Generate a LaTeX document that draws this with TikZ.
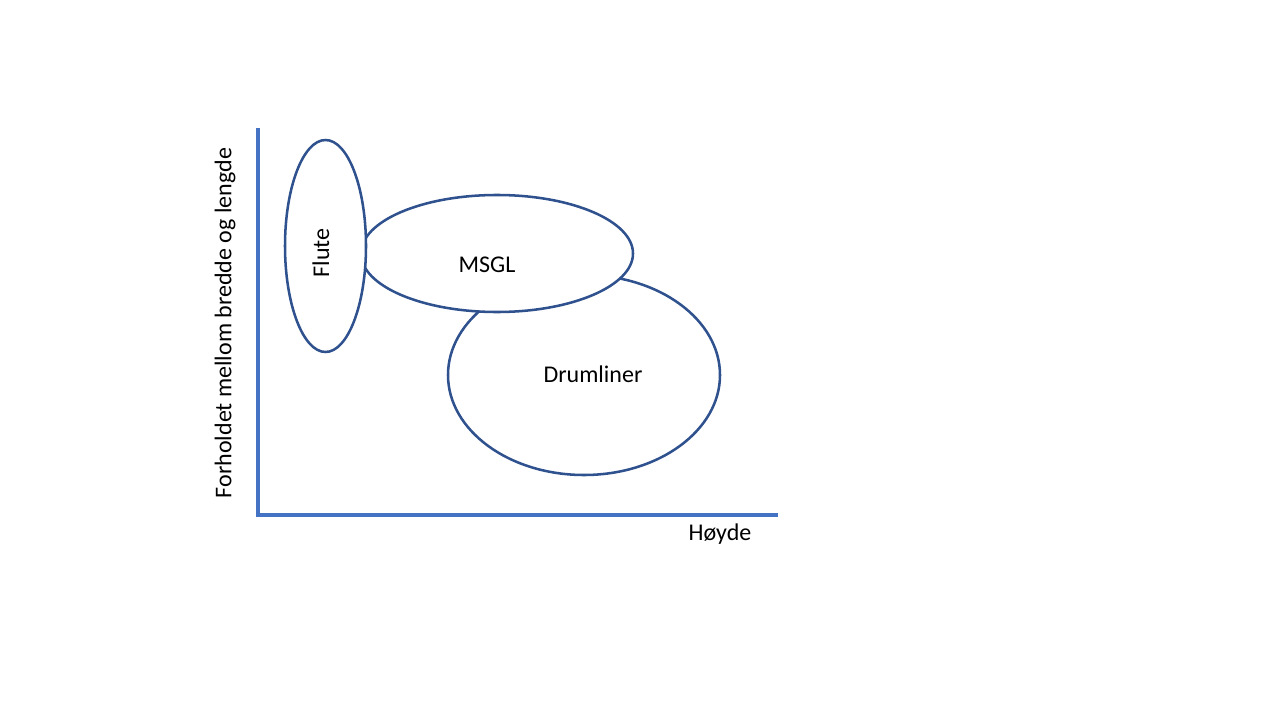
\documentclass[tikz,border=0pt]{standalone}
\usepackage{fontspec}
\setmainfont{Carlito}
\usetikzlibrary{shapes.geometric}
\definecolor{axisblue}{HTML}{4472C4}
\definecolor{ellblue}{HTML}{2F528F}
\begin{document}
\begin{tikzpicture}[x=0.75pt,y=-0.75pt,
  blob/.style={draw=ellblue,line width=1.9pt,fill=white,ellipse,inner sep=0pt},
  axisline/.style={draw=axisblue,line width=2.4pt},
  lbl/.style={font=\fontsize{18}{21}\selectfont,inner sep=0pt}]
\useasboundingbox (0,0) rectangle (1280,720);
\coordinate (origin) at (258,515);
\coordinate (ytop) at (258,128);
\coordinate (xend) at (778,515);
\draw[axisline] (ytop) -- (origin) -- (xend);
\node[blob,minimum width=272pt*0.75,minimum height=200pt*0.75] (drum) at (584,375) {};
\node[blob,minimum width=272pt*0.75,minimum height=117pt*0.75] (msgl) at (497,253.5) {};
\node[blob,minimum width=81pt*0.75,minimum height=212pt*0.75] (flute) at (325.5,246) {};
\node[lbl] (tdrum) at (593,374) {Drumliner};
\node[lbl] (tmsgl) at (487,265) {MSGL};
\node[lbl,rotate=90] (tflute) at (321,253) {Flute};
\node[lbl] (thoyde) at (720,534) {Høyde};
\node[lbl,rotate=90] (tylab) at (225,323) {Forholdet mellom bredde og lengde};
\end{tikzpicture}
\end{document}
